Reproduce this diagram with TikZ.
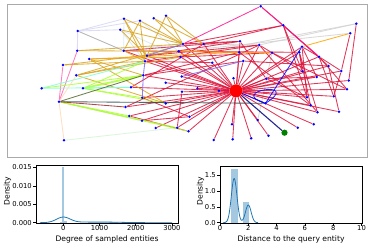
\documentclass[tikz,border=0pt]{standalone}
\usepackage{fontspec}
\setmainfont{DejaVu Sans}
\pgfdeclarelayer{bg}
\pgfsetlayers{bg,main}
\definecolor{crim}{RGB}{220,20,60}
\definecolor{gold}{RGB}{218,165,32}
\definecolor{orng}{RGB}{255,165,0}
\definecolor{dpink}{RGB}{255,20,147}
\definecolor{hpink}{RGB}{255,105,180}
\definecolor{gyel}{RGB}{173,255,47}
\definecolor{aqua}{RGB}{127,255,212}
\definecolor{olive}{RGB}{85,107,47}
\definecolor{dslate}{RGB}{47,79,79}
\definecolor{brwn}{RGB}{165,42,42}
\definecolor{peach}{RGB}{255,218,185}
\definecolor{hdew}{RGB}{215,245,215}
\definecolor{lav}{RGB}{215,215,245}
\definecolor{gr}{RGB}{169,169,169}
\definecolor{lgr}{RGB}{211,211,211}
\definecolor{alice}{RGB}{215,232,245}
\definecolor{mslate}{RGB}{123,104,238}
\definecolor{navyc}{RGB}{0,0,128}
\definecolor{cnull}{RGB}{31,119,180}
\definecolor{frame}{RGB}{170,170,170}
\tikzset{
  dot/.style={circle,fill=blue,inner sep=0pt,minimum size=2.8pt},
  ed/.style={line width=0.85pt,opacity=0.85},
  axisbox/.style={draw=black,line width=0.5pt},
  tickl/.style={font=\fontsize{6.8}{8}\selectfont,inner sep=0.5pt},
  labl/.style={font=\fontsize{7.6}{9}\selectfont,inner sep=0pt},
  kde/.style={draw=cnull,line width=0.8pt},
  barf/.style={fill=cnull,fill opacity=0.4}
}
\begin{document}
\begin{tikzpicture}[x=1pt,y=-1pt]
\useasboundingbox (0,0) rectangle (371,247);
\begin{pgfonlayer}{bg}
\fill[white] (0,0) rectangle (371,247);
\end{pgfonlayer}
\draw[frame,line width=1pt] (7.3,4.7) rectangle (367.3,157.3);
% ---------- graph nodes ----------
\node[dot] (a1) at (124,18.7) {};
\node[dot] (a2) at (140,20.7) {};
\node[dot] (a3) at (153.7,18.3) {};
\node[dot] (a4) at (166,15.7) {};
\node[dot] (a5) at (77.7,31) {};
\node[dot] (a6) at (120.3,29.7) {};
\node[dot] (a7) at (183,44) {};
\node[dot] (a8) at (77.3,50.7) {};
\node[dot] (a9) at (123.7,50.7) {};
\node[dot] (a10) at (147,55.7) {};
\node[dot] (a11) at (180.5,57) {};
\node[dot] (a12) at (89.3,59) {};
\node[dot] (a13) at (145,61.3) {};
\node[dot] (a14) at (63,65) {};
\node[dot] (a15) at (76.3,75.3) {};
\node[dot] (a16) at (143.3,75.3) {};
\node[dot] (a17) at (181.7,76.5) {};
\node[dot] (a18) at (165.7,82.7) {};
\node[dot] (a19) at (41.7,88.3) {};
\node[dot] (a20) at (83,88.3) {};
\node[dot] (a21) at (131,87.3) {};
\node[dot] (a22) at (182,91.8) {};
\node[dot] (a23) at (59,101.7) {};
\node[dot] (a24) at (142.3,97.7) {};
\node[dot] (a25) at (165.7,103.4) {};
\node[dot] (a26) at (125.5,107) {};
\node[dot] (a27) at (129.3,116) {};
\node[dot] (a28) at (142,120.7) {};
\node[dot] (a29) at (155.7,128) {};
\node[dot] (a30) at (177.2,127.7) {};
\node[dot] (a31) at (64,140.3) {};
\node[dot] (a32) at (189.5,116.7) {};
\node[dot] (a33) at (188.5,131.3) {};
\node[dot] (a34) at (178.7,51.3) {};
\node[dot] (b1) at (203.7,44) {};
\node[dot] (b2) at (240,41.3) {};
\node[dot] (b3) at (239.3,52.3) {};
\node[dot] (b4) at (212.2,62.7) {};
\node[dot] (b5) at (233.5,78.2) {};
\node[dot] (b6) at (197.5,88.3) {};
\node[dot] (b7) at (219,90.8) {};
\node[dot] (b8) at (260.7,6.3) {};
\node[dot] (b9) at (283.3,25.3) {};
\node[dot] (b10) at (356.3,23.7) {};
\node[dot] (b11) at (350.2,33.3) {};
\node[dot] (b12) at (259.3,45) {};
\node[dot] (b13) at (302,46.7) {};
\node[dot] (b14) at (272,52.7) {};
\node[dot] (b15) at (299.3,52.3) {};
\node[dot] (b16) at (319,56.7) {};
\node[dot] (b17) at (243.3,61) {};
\node[dot] (b18) at (328.5,66) {};
\node[dot] (b19) at (341.3,71) {};
\node[dot] (b20) at (302.3,71.3) {};
\node[dot] (b21) at (316.7,77) {};
\node[dot] (b22) at (348.8,80.5) {};
\node[dot] (b23) at (266.2,78.7) {};
\node[dot] (b24) at (347,89.3) {};
\node[dot] (b25) at (307,97.3) {};
\node[dot] (b26) at (333.7,96.3) {};
\node[dot] (b27) at (265.5,103.3) {};
\node[dot] (b28) at (310.5,105.3) {};
\node[dot] (b29) at (317.5,112.3) {};
\node[dot] (b30) at (339,111.7) {};
\node[dot] (b31) at (257.8,120) {};
\node[dot] (b32) at (232,124.3) {};
\node[dot] (b33) at (297.7,127.7) {};
\node[dot] (b34) at (313.7,124.3) {};
\node[dot] (b35) at (213.8,140) {};
\node[dot] (b36) at (232.7,139.3) {};
\node[dot] (b37) at (251.2,138.3) {};
\node[dot] (b38) at (268.5,135.8) {};
\node[circle,fill=red,inner sep=0pt,minimum size=13pt] (R) at (236,90.8) {};
\node[circle,fill={rgb,255:red,0;green,128;blue,0},inner sep=0pt,minimum size=6.2pt] (G) at (284.5,132.7) {};
% ---------- graph edges ----------
\begin{pgfonlayer}{bg}
\foreach \u/\v in {a5/a1,a5/a6,a5/a8,a5/a2,a23/a28}
  \draw[ed,lav] (\u) -- (\v);
\foreach \u/\v in {a6/a11,a9/a7,a1/a9,a2/a34,a6/a13}
  \draw[ed,alice] (\u) -- (\v);
\draw[ed,hdew] (a31) -- (a30);
\foreach \u/\v in {b10/a11,b11/a34,a7/b12,b14/b31,b10/b12}
  \draw[ed,lgr] (\u) -- (\v);
\draw[ed,gr] (a5) -- (a9);
\foreach \v in {a7,a9,a10,a11,a13,a16,a17,a18,a21,a22,a24,a25,a26,a27,a28,a29,a30,a32,a33,a34,b1,b2,b3,b4,b5,b6,b7,b12,b13,b14,b15,b16,b17,b18,b19,b20,b21,b22,b23,b24,b25,b26,b28,b29,b30,b31,b32,b33,b34,b35,b36,b37,b38}
  \draw[ed,crim] (R) -- (\v);
\foreach \u/\v in {a7/b2,a7/b9,b1/b9,a9/b2,a9/b3,a10/b12,a13/b4,a16/b3,a21/b1,a26/b12,a24/a32,a27/a33,a28/a32,a22/a30,b9/b16,b9/b18,b9/b25,b10/b22,b11/b19,b13/b21,b13/b16,b15/b20,b15/b28,b16/b19,b16/b26,b18/b30,b19/b26,b12/b29,b14/b24,b17/b18,b23/b21,b23/b25,b8/b9,b2/b23,a34/b15,b9/b20,b13/b25,b15/b29,b16/b24,b12/b20,b3/b28,a11/b14,a13/b12,a10/b2,a16/b17}
  \draw[ed,crim] (\u) -- (\v);
\foreach \u/\v in {a1/a7,a1/a13,a2/a7,a2/a9,a2/a13,a3/a7,a3/b1,a4/a7,a4/b1,a4/a10,a6/a7,a6/a10,a8/a7,a8/a34,a12/a11,a12/a25,a12/a16,a15/a13,a15/a11,a15/a7,a14/a13,a15/a25,a14/a34,a9/a13,a1/a10}
  \draw[ed,gold] (\u) -- (\v);
\foreach \u/\v in {b11/b13,b14/a34,a12/b3}
  \draw[ed,orng] (\u) -- (\v);
\foreach \u/\v in {b8/a7,b8/b16}
  \draw[ed,dpink] (\u) -- (\v);
\foreach \u/\v in {a8/a23,a14/a23}
  \draw[ed,hpink] (\u) -- (\v);
\foreach \u/\v in {a20/a13,a20/a24,a20/a25,a19/a16,a23/a27,a23/a30,a23/a33}
  \draw[ed,gyel] (\u) -- (\v);
\draw[ed,gyel,line width=1.8pt] (a20) -- (a16);
\foreach \u/\v in {a19/a21,a19/a13,a20/a21}
  \draw[ed,aqua] (\u) -- (\v);
\foreach \u/\v in {a31/a23,a15/a23}
  \draw[ed,peach] (\u) -- (\v);
\draw[ed,olive] (a23) -- (a16);
\draw[ed,dslate] (a23) -- (b27);
\draw[ed,brwn] (a23) -- (a26);
\foreach \u/\v in {a10/a7,a13/a16,a16/a24,b17/a17}
  \draw[ed,mslate] (\u) -- (\v);
\draw[ed,blue] (b27) -- (b13);
\draw[ed,blue] (R) -- (b27);
\draw[ed,blue] (b27.center) .. controls +(-40,-12) and +(38,-24) .. (b27.center);
\draw[ed,navyc,line width=1.1pt] (R) -- (G);
\end{pgfonlayer}
% ---------- left plot ----------
\fill[barf] (62.2,167.3) rectangle (64.4,222.7);
\fill[barf] (64.4,221.2) rectangle (66.6,222.7);
\fill[barf] (60.0,222.0) rectangle (62.2,222.7);
\fill[barf] (88,222.2) rectangle (118,222.7);
\draw[kde] plot[domain=-0.65:3,samples=160,smooth] ({63.3+36.2*\x},{222.7-3.693*(0.7*exp(-min((\x)*(\x)/0.0722,9))/0.4763+0.3*exp(-min((\x-0.9)*(\x-0.9)/0.72,9))/1.504)});
\node[axisbox,minimum width=141.7pt,minimum height=57.4pt,inner sep=0pt,anchor=north west] (lbox) at (36,165.3) {};
\foreach \yy/\t in {222.7/0.000,204.2/0.005,185.8/0.010,167.3/0.015}{
  \draw[line width=0.5pt] (36,\yy) -- (33,\yy);
  \node[tickl,anchor=east] at (32.5,\yy) {\t};
}
\foreach \xx/\t in {63.3/0,99.5/1000,135.7/2000,171.9/3000}{
  \draw[line width=0.5pt] (\xx,222.7) -- (\xx,225.7);
  \node[tickl,anchor=north] at (\xx,225) {\t};
}
\node[labl] (lx) at (107,239.5) {Degree of sampled entities};
\node[labl,rotate=90] (ly) at (7.5,191) {Density};
% ---------- right plot ----------
\fill[barf] (231,169.0) rectangle (237.7,222.7);
\fill[barf] (242.7,201.7) rectangle (248.7,222.7);
\draw[kde] plot[domain=0.2:2.7,samples=140,smooth] ({220+14.15*\x},{222.7-31.6*(0.7*exp(-min((\x-1)*(\x-1)/0.08,9))+0.28*exp(-min((\x-2)*(\x-2)/0.08,9)))/0.5013});
\node[axisbox,minimum width=141.7pt,minimum height=57pt,inner sep=0pt,anchor=north west] (rbox) at (220,165.7) {};
\foreach \yy/\t in {222.7/0.0,206.9/0.5,191.1/1.0,175.3/1.5}{
  \draw[line width=0.5pt] (220,\yy) -- (217,\yy);
  \node[tickl,anchor=east] at (216.5,\yy) {\t};
}
\foreach \xx/\t in {220/0,248.3/2,276.6/4,304.9/6,333.2/8,361.5/10}{
  \draw[line width=0.5pt] (\xx,222.7) -- (\xx,225.7);
  \node[tickl,anchor=north] at (\xx,225) {\t};
}
\node[labl] (rx) at (291,239.5) {Distance to the query entity};
\node[labl,rotate=90] (ry) at (200.5,191) {Density};
\end{tikzpicture}
\end{document}
